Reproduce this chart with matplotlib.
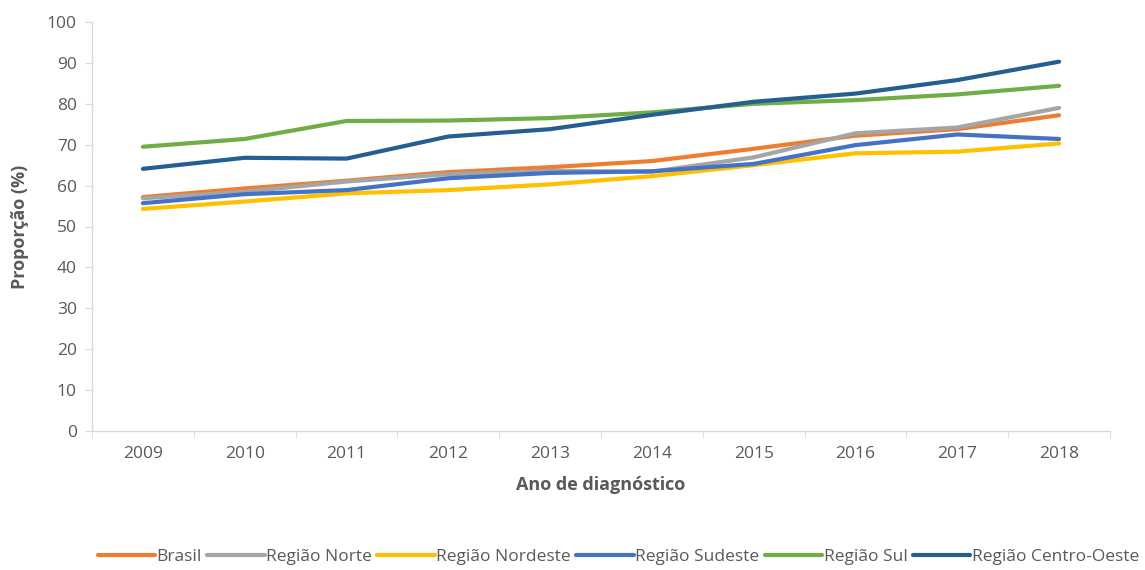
import numpy as np
import matplotlib.pyplot as plt
from matplotlib.ticker import FixedLocator

plt.rcParams['font.family'] = ['Open Sans', 'DejaVu Sans']

anos = ['2009', '2010', '2011', '2012', '2013', '2014', '2015', '2016', '2017', '2018']

# proporção (%) por região
brasil = [57.2, 59.3, 61.2, 63.3, 64.5, 66.0, 69.0, 72.2, 73.8, 77.2]
norte = [56.9, 58.5, 61.0, 62.8, 63.6, 63.4, 66.9, 72.8, 74.2, 79.0]
nordeste = [54.3, 56.1, 58.1, 58.9, 60.3, 62.3, 65.0, 67.9, 68.3, 70.3]
sudeste = [55.7, 57.9, 58.9, 61.8, 63.1, 63.5, 65.3, 69.9, 72.5, 71.4]
sul = [69.5, 71.4, 75.8, 75.9, 76.5, 77.9, 80.0, 80.9, 82.3, 84.4]
centro_oeste = [64.1, 66.8, 66.6, 72.0, 73.8, 77.3, 80.5, 82.5, 85.8, 90.3]

series = [
    ('Brasil', brasil, '#ED7D31'),
    ('Região Norte', norte, '#A5A5A5'),
    ('Região Nordeste', nordeste, '#FFC000'),
    ('Região Sudeste', sudeste, '#4472C4'),
    ('Região Sul', sul, '#70AD47'),
    ('Região Centro-Oeste', centro_oeste, '#255E91'),
]

fig = plt.figure(figsize=(11.45, 5.7), dpi=100)
ax = fig.add_axes([92 / 1145, 1 - 431 / 570, (1110 - 92) / 1145, (431 - 22) / 570])

x = np.arange(len(anos))
for nome, vals, cor in series:
    ax.plot(x, vals, color=cor, lw=3, label=nome, solid_capstyle='round')

ax.set_xlim(-0.5, len(anos) - 0.5)
ax.set_ylim(0, 100)
ax.set_yticks(range(0, 101, 10))
ax.set_xticks(x)
ax.set_xticklabels(anos)
ax.xaxis.set_minor_locator(FixedLocator(np.arange(-0.5, len(anos), 1)))

for s in ['top', 'right']:
    ax.spines[s].set_visible(False)
for s in ['left', 'bottom']:
    ax.spines[s].set_color('#D9D9D9')
    ax.spines[s].set_linewidth(1)

ax.tick_params(axis='y', colors='#D9D9D9', labelcolor='#595959', labelsize=12.5, length=5, pad=6)
ax.tick_params(axis='x', which='major', length=0, labelcolor='#595959', labelsize=12.5, pad=11)
ax.tick_params(axis='x', which='minor', length=5, color='#D9D9D9')

ax.set_ylabel('Proporção (%)', fontsize=13, fontweight='bold', color='#595959', labelpad=13)
ax.set_xlabel('Ano de diagnóstico', fontsize=13, fontweight='bold', color='#595959', labelpad=10)

fig.legend(loc='center', bbox_to_anchor=(0.54, 1 - 557 / 570), ncol=6, frameon=False,
           fontsize=12.5, handlelength=3.3, handletextpad=0.1, columnspacing=0.3,
           labelcolor='#595959')

fig.savefig('out.png', dpi=100)
